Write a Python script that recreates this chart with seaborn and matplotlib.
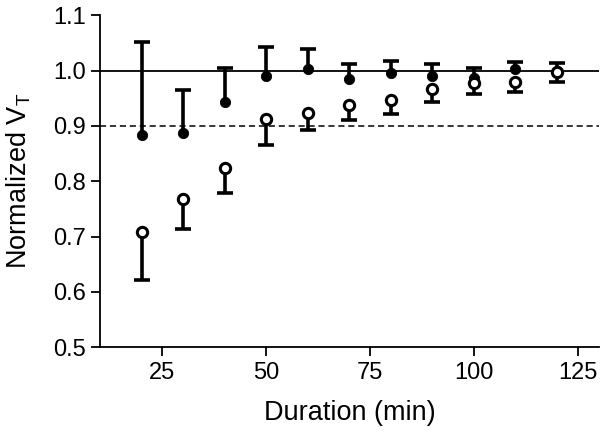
import numpy as np
import pandas as pd
import matplotlib
matplotlib.use('Agg')
import matplotlib.pyplot as plt
import seaborn as sns

duration = [20, 30, 40, 50, 60, 70, 80, 90, 100, 110, 120]

# filled circles, error bar drawn upward
filled_mean = [0.883, 0.888, 0.943, 0.991, 1.002, 0.984, 0.995, 0.990, 0.986, 1.002, 1.000]
filled_upper = [1.051, 0.964, 1.004, 1.042, 1.038, 1.011, 1.017, 1.011, 1.005, 1.016, 1.013]

# open circles, error bar drawn downward
open_mean = [0.708, 0.767, 0.823, 0.913, 0.924, 0.937, 0.946, 0.967, 0.977, 0.979, 0.997]
open_lower = [0.622, 0.713, 0.778, 0.866, 0.892, 0.910, 0.922, 0.944, 0.957, 0.961, 0.980]

sns.set_style('ticks')
plt.rcParams['font.family'] = ['Liberation Sans', 'DejaVu Sans']
plt.rcParams['mathtext.fontset'] = 'custom'
plt.rcParams['mathtext.rm'] = 'Liberation Sans'
plt.rcParams['mathtext.it'] = 'Liberation Sans'
plt.rcParams['text.color'] = 'black'
plt.rcParams['axes.labelcolor'] = 'black'

df = pd.DataFrame({'duration': duration,
                   'filled_mean': filled_mean, 'filled_upper': filled_upper,
                   'open_mean': open_mean, 'open_lower': open_lower})

fig = plt.figure(figsize=(6.07, 4.34), dpi=100)
ax = fig.add_axes([0.165, 0.2, 0.821, 0.765])

ax.axhline(1.0, color='black', lw=1.3, zorder=1)
ax.axhline(0.9, color='black', lw=1.1, ls=(0, (4, 2.5)), zorder=1)

# one-sided error bars: stem + cap only at the far end
ax.vlines(df['duration'], df['filled_mean'], df['filled_upper'], color='black', lw=2.6, zorder=2)
ax.vlines(df['duration'], df['open_lower'], df['open_mean'], color='black', lw=2.6, zorder=2)
ax.plot(df['duration'], df['filled_upper'], ls='none', marker='_', ms=12, mew=2.6,
        color='black', zorder=2)
ax.plot(df['duration'], df['open_lower'], ls='none', marker='_', ms=12, mew=2.6,
        color='black', zorder=2)

sns.scatterplot(data=df, x='duration', y='filled_mean', ax=ax, color='black',
                edgecolor='black', s=55, marker='o', zorder=3)
sns.scatterplot(data=df, x='duration', y='open_mean', ax=ax, facecolor='white',
                edgecolor='black', linewidth=2.2, s=55, marker='o', zorder=3)

ax.set_xlim(10, 130)
ax.set_ylim(0.5, 1.1)
ax.set_xticks([25, 50, 75, 100, 125])
ax.set_yticks([0.5, 0.6, 0.7, 0.8, 0.9, 1.0, 1.1])
ax.yaxis.set_major_formatter(matplotlib.ticker.FormatStrFormatter('%.1f'))
ax.tick_params(direction='out', length=6.5, width=1.3, labelsize=17, colors='black',
               labelcolor='black', pad=4)
for side in ['left', 'bottom']:
    ax.spines[side].set_linewidth(1.3)
    ax.spines[side].set_color('black')
sns.despine(ax=ax)

ax.set_xlabel('Duration (min)', fontsize=19.5, labelpad=12)
ax.set_ylabel('Normalized $\\mathrm{V}_{\\mathrm{T}}$', fontsize=19.5, labelpad=14)

fig.savefig('out.png', dpi=100)
